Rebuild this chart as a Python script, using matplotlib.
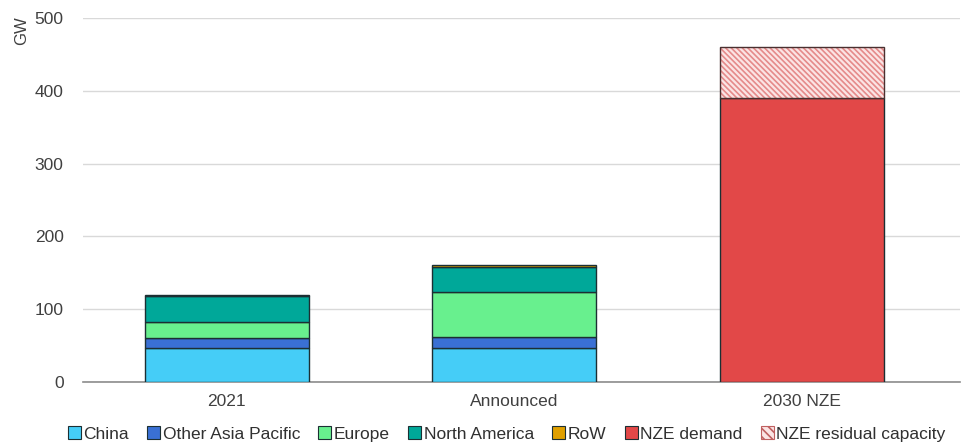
import matplotlib
matplotlib.use("Agg")
import matplotlib.pyplot as plt
from matplotlib.patches import Patch
import numpy as np

plt.rcParams["font.family"] = ["Liberation Sans", "DejaVu Sans"]
plt.rcParams["hatch.linewidth"] = 1.2

categories = ["2021", "Announced", "2030 NZE"]

# GW by region; scenario columns are zero where a series does not apply
china = [46, 46, 0]
other_asia_pacific = [15, 16, 0]
europe = [21, 61, 0]
north_america = [36, 35, 0]
row = [1, 3, 0]
nze_demand = [0, 0, 390]
nze_residual = [0, 0, 70]

series = [
    ("China", china, "#45cdf7"),
    ("Other Asia Pacific", other_asia_pacific, "#3a70d4"),
    ("Europe", europe, "#68f08e"),
    ("North America", north_america, "#00a899"),
    ("RoW", row, "#e0a000"),
    ("NZE demand", nze_demand, "#e24848"),
]

edge = "#1c2f33"

fig = plt.figure(figsize=(9.65, 4.42), dpi=100)
ax = fig.add_axes([0.086, 0.136, 0.909, 0.823])

x = np.arange(len(categories))
width = 0.57
bottom = np.zeros(len(categories))
handles = []
for label, vals, color in series:
    vals = np.array(vals, dtype=float)
    mask = vals > 0
    ax.bar(x[mask], vals[mask], width, bottom=bottom[mask], color=color,
           edgecolor=edge, linewidth=1.0, zorder=3)
    bottom += vals
    handles.append(Patch(facecolor=color, edgecolor=edge, linewidth=0.8, label=label))

# residual capacity: hatched fill, then outline on top
res = np.array(nze_residual, dtype=float)
mask = res > 0
ax.bar(x[mask], res[mask], width, bottom=bottom[mask], color="#fbe4e4",
       edgecolor="#e58a8a", hatch="\\\\\\\\\\\\", linewidth=0, zorder=3)
ax.bar(x[mask], res[mask], width, bottom=bottom[mask], fill=False,
       edgecolor="#4a3030", linewidth=1.0, zorder=4)
handles.append(Patch(facecolor="#fbe4e4", edgecolor="#c06060", hatch="\\\\\\\\",
                     linewidth=0.8, label="NZE residual capacity"))

ax.set_xlim(-0.5, 2.55)
ax.set_ylim(0, 500)
ax.set_yticks(range(0, 501, 100))
ax.set_xticks(x)
ax.set_xticklabels(categories)
ax.tick_params(axis="both", length=0, labelsize=12.5, colors="#404040", pad=9)
ax.tick_params(axis="y", pad=14)
ax.grid(axis="y", color="#d9d9d9", linewidth=1.0, zorder=0)
for side in ("top", "right", "left"):
    ax.spines[side].set_visible(False)
ax.spines["bottom"].set_color("#8c8c8c")
ax.spines["bottom"].set_linewidth(1.2)

fig.text(0.022, 0.93, "GW", rotation=90, fontsize=12, color="#404040",
         ha="center", va="center")

fig.legend(handles=handles, loc="lower center", bbox_to_anchor=(0.525, -0.035),
           ncol=7, frameon=False, fontsize=12.5, handlelength=0.75,
           handleheight=0.75, handletextpad=0.15, columnspacing=1.05,
           labelcolor="#303030")

fig.savefig("out.png", dpi=100)
